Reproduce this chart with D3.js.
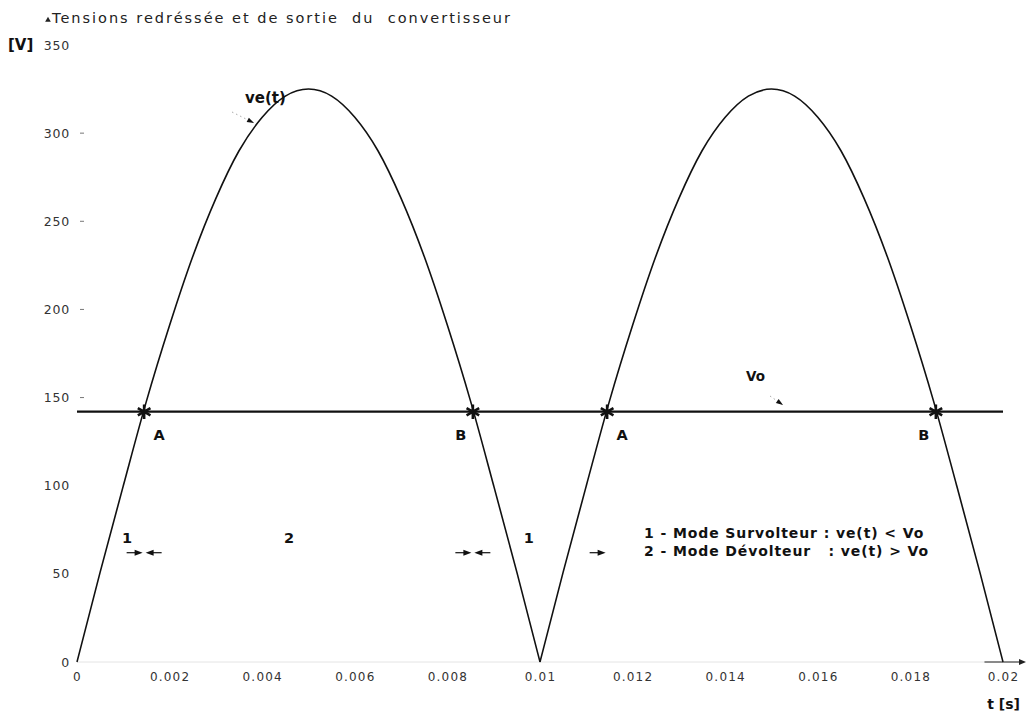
<!DOCTYPE html>
<html>
<head>
<meta charset="utf-8">
<script src="https://cdn.jsdelivr.net/npm/d3@7"></script>
<style>
  html, body { margin: 0; padding: 0; background: #fff; }
  svg { display: block; }
  text { font-family: "DejaVu Sans", Verdana, sans-serif; }
</style>
</head>
<body>
<svg id="chart" width="1027" height="715"></svg>
<script>
// Rectified input voltage ve(t), sampled every 0.5 ms over two half-periods
const tSamples = [
  0, 0.0005, 0.001, 0.0015, 0.002, 0.0025, 0.003, 0.0035, 0.004, 0.0045,
  0.005, 0.0055, 0.006, 0.0065, 0.007, 0.0075, 0.008, 0.0085, 0.009, 0.0095,
  0.01, 0.0105, 0.011, 0.0115, 0.012, 0.0125, 0.013, 0.0135, 0.014, 0.0145,
  0.015, 0.0155, 0.016, 0.0165, 0.017, 0.0175, 0.018, 0.0185, 0.019, 0.0195, 0.02
];
const veVolts = [
  0, 51, 100, 148, 191, 230, 263, 290, 309, 321,
  325, 321, 309, 290, 263, 230, 191, 148, 100, 51,
  0, 51, 100, 148, 191, 230, 263, 290, 309, 321,
  325, 321, 309, 290, 263, 230, 191, 148, 100, 51, 0
];
// Output voltage Vo (constant)
const voVolts = 142;
const voSpan = [0, 0.02];

// Crossings of ve(t) with Vo
const crossTimes = [0.00145, 0.00855, 0.01145, 0.01855];
const crossNames = ["A", "B", "A", "B"];

// Operating-mode regions between crossings
const modeTimes = [0.00108, 0.00458, 0.00976];
const modeNames = ["1", "2", "1"];
const modeLevel = 62;
// Arrowheads marking region boundaries: time and pointing direction
const boundaryTimes = [0.00145, 0.00145, 0.00855, 0.00855, 0.01145];
const boundaryDirs  = [1, -1, 1, -1, 1];

// Axis ticks
const xTickValues = [0, 0.002, 0.004, 0.006, 0.008, 0.01, 0.012, 0.014, 0.016, 0.018, 0.02];
const xTickLabels = ["0", "0.002", "0.004", "0.006", "0.008", "0.01", "0.012", "0.014", "0.016", "0.018", "0.02"];
const yTickValues = [0, 50, 100, 150, 200, 250, 300, 350];

const legendLines = [
  "1 - Mode Survolteur : ve(t) < Vo",
  "2 - Mode Dévolteur   : ve(t) > Vo"
];

const svg = d3.select("#chart");
const margin = { left: 77, right: 24, top: 45, bottom: 53 };
const W = 1027, H = 715;

const x = d3.scaleLinear().domain([0, 0.02]).range([margin.left, W - margin.right]);
const y = d3.scaleLinear().domain([0, 350]).range([H - margin.bottom, margin.top]);

// Title with small axis arrow
svg.append("path")
  .attr("d", d3.symbol(d3.symbolTriangle, 14)())
  .attr("transform", "translate(48,20)")
  .attr("fill", "#222");
svg.append("text")
  .attr("x", 52).attr("y", 23)
  .attr("font-size", 14.5).attr("fill", "#222")
  .attr("textLength", 458).attr("lengthAdjust", "spacing")
  .style("white-space", "pre")
  .text("Tensions redréssée et de sortie  du  convertisseur");

// Units
svg.append("text").attr("x", 8).attr("y", 50)
  .attr("font-size", 15).attr("font-weight", "bold").attr("fill", "#111")
  .text("[V]");
svg.append("text").attr("x", 1020).attr("y", 709)
  .attr("text-anchor", "end")
  .attr("font-size", 14).attr("font-weight", "bold").attr("fill", "#111")
  .text("t [s]");

// X axis: faint baseline with arrow
svg.append("line")
  .attr("x1", x(0)).attr("x2", W - 4)
  .attr("y1", y(0)).attr("y2", y(0))
  .attr("stroke", "#e4e4e4").attr("stroke-width", 1);
svg.append("line")
  .attr("x1", x(0.0196)).attr("x2", W - 6)
  .attr("y1", y(0)).attr("y2", y(0))
  .attr("stroke", "#222").attr("stroke-width", 1.2);
svg.append("path")
  .attr("d", "M0,-3L7,0L0,3Z")
  .attr("transform", `translate(${W - 8},${y(0)})`)
  .attr("fill", "#222");

// X tick labels
const xAxis = d3.axisBottom(x)
  .tickValues(xTickValues)
  .tickFormat((d, i) => xTickLabels[i])
  .tickSize(0).tickPadding(10);
const gx = svg.append("g")
  .attr("transform", `translate(0,${y(0)})`)
  .call(xAxis);
gx.select(".domain").remove();
gx.selectAll("text")
  .attr("font-family", "DejaVu Sans, Verdana, sans-serif")
  .attr("font-size", 12).attr("fill", "#333")
  .attr("letter-spacing", 1.2);

// Y tick labels and short tick marks
const yAxis = d3.axisLeft(y)
  .tickValues(yTickValues)
  .tickFormat(d3.format("d"))
  .tickSize(0).tickPadding(5);
const gy = svg.append("g")
  .attr("transform", `translate(${margin.left - 2},0)`)
  .call(yAxis);
gy.select(".domain").remove();
gy.selectAll("text")
  .attr("font-family", "DejaVu Sans, Verdana, sans-serif")
  .attr("font-size", 12.5).attr("fill", "#333")
  .attr("letter-spacing", 0.8);
svg.append("g").selectAll("line")
  .data(yTickValues.filter(v => v > 100 && v < 350))
  .join("line")
  .attr("x1", margin.left + 3).attr("x2", margin.left + 7)
  .attr("y1", d => y(d)).attr("y2", d => y(d))
  .attr("stroke", "#777").attr("stroke-width", 1);

// ve(t): each half-wave drawn as its own smooth path so the cusp stays sharp
const line = d3.line()
  .x(d => x(d[0])).y(d => y(d[1]))
  .curve(d3.curveMonotoneX);
const points = tSamples.map((t, i) => [t, veVolts[i]]);
const cusp = tSamples.indexOf(0.01);
[points.slice(0, cusp + 1), points.slice(cusp)].forEach(seg => {
  svg.append("path")
    .attr("d", line(seg))
    .attr("fill", "none")
    .attr("stroke", "#111")
    .attr("stroke-width", 1.6);
});

// Vo
svg.append("line")
  .attr("x1", x(voSpan[0])).attr("x2", x(voSpan[1]))
  .attr("y1", y(voVolts)).attr("y2", y(voVolts))
  .attr("stroke", "#111").attr("stroke-width", 2.2);

// Crossing markers and labels
const star = d3.symbol(d3.symbolAsterisk, 150);
crossTimes.forEach((t, i) => {
  svg.append("path")
    .attr("d", star())
    .attr("transform", `translate(${x(t)},${y(voVolts)})`)
    .attr("fill", "none").attr("stroke", "#111").attr("stroke-width", 2.6);
  const isA = crossNames[i] === "A";
  svg.append("text")
    .attr("x", x(t) + (isA ? 15 : -12))
    .attr("y", y(voVolts) + 28)
    .attr("text-anchor", "middle")
    .attr("font-size", 14.5).attr("font-weight", "bold").attr("fill", "#111")
    .text(crossNames[i]);
});

// Curve names with leader arrows
function leader(x1, y1, x2, y2) {
  svg.append("line")
    .attr("x1", x1).attr("y1", y1).attr("x2", x2).attr("y2", y2)
    .attr("stroke", "#aaa").attr("stroke-width", 1).attr("stroke-dasharray", "1.5 3");
  const ang = Math.atan2(y2 - y1, x2 - x1) * 180 / Math.PI;
  svg.append("path")
    .attr("d", "M0,-2.5L7,0L0,2.5Z")
    .attr("transform", `translate(${x2 - 7 * Math.cos(ang * Math.PI / 180)},${y2 - 7 * Math.sin(ang * Math.PI / 180)}) rotate(${ang})`)
    .attr("fill", "#111");
}
svg.append("text").attr("x", 245).attr("y", 103)
  .attr("font-size", 15).attr("font-weight", "bold").attr("fill", "#111")
  .text("ve(t)");
leader(232, 112, 254, 123);
svg.append("text").attr("x", 746).attr("y", 381)
  .attr("font-size", 13.5).attr("font-weight", "bold").attr("fill", "#111")
  .text("Vo");
leader(770, 396, 783, 405);

// Mode regions
modeTimes.forEach((t, i) => {
  svg.append("text")
    .attr("x", x(t)).attr("y", y(modeLevel) - 10)
    .attr("text-anchor", "middle")
    .attr("font-size", 14.5).attr("font-weight", "bold").attr("fill", "#111")
    .text(modeNames[i]);
});
boundaryTimes.forEach((t, i) => {
  const dir = boundaryDirs[i];
  const bx = x(t) - dir * 1.5;
  svg.append("line")
    .attr("x1", bx - dir * 16).attr("x2", bx - dir * 6)
    .attr("y1", y(modeLevel)).attr("y2", y(modeLevel))
    .attr("stroke", "#111").attr("stroke-width", 1.2);
  svg.append("path")
    .attr("d", "M0,-3L8,0L0,3Z")
    .attr("transform", `translate(${bx},${y(modeLevel)}) scale(${dir},1) translate(-8,0)`)
    .attr("fill", "#111");
});

// Legend
svg.append("g").selectAll("text")
  .data(legendLines)
  .join("text")
  .attr("x", 644)
  .attr("y", (d, i) => 538 + i * 18)
  .attr("font-size", 14).attr("font-weight", "bold").attr("fill", "#111")
  .attr("letter-spacing", 0.9)
  .style("white-space", "pre")
  .text(d => d);
</script>
</body>
</html>
